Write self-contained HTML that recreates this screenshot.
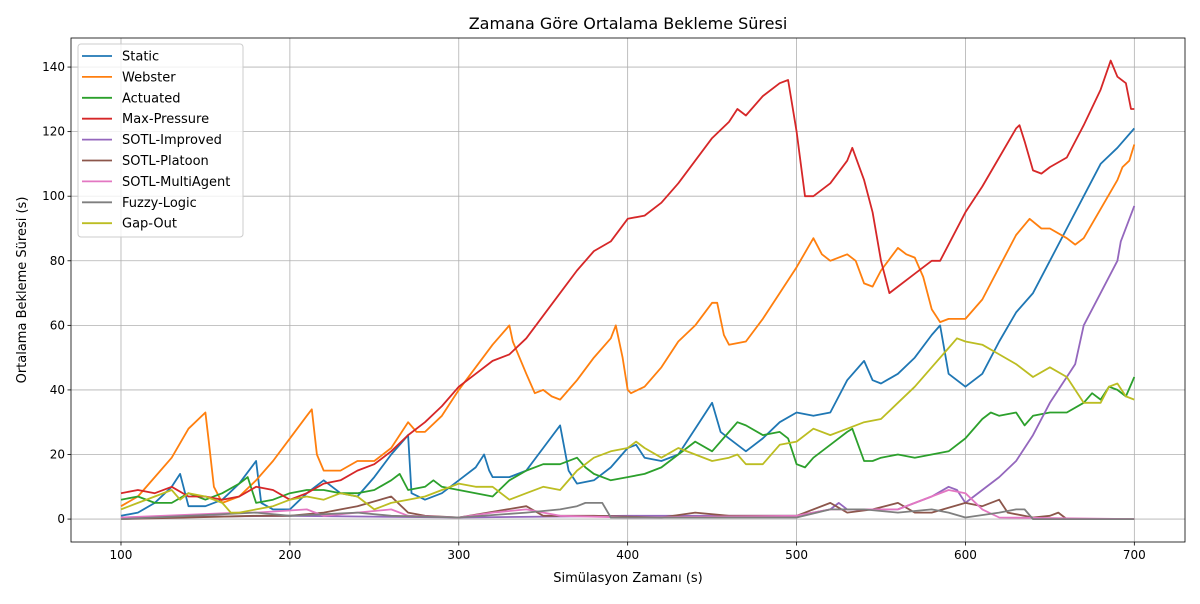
<!DOCTYPE html>
<html><head><meta charset="utf-8"><style>
body{margin:0;background:#fff;font-family:"DejaVu Sans","Liberation Sans",sans-serif;}
svg text{font-family:"DejaVu Sans","Liberation Sans",sans-serif;}
</style></head><body>
<svg id="chart" width="1200" height="600" xmlns="http://www.w3.org/2000/svg"></svg>
<script>
const xStatic=[100,110,120,130,135,140,150,160,170,180,183,190,200,210,220,230,240,250,260,270,272,280,290,300,310,315,318,320,330,340,350,360,365,370,380,390,400,405,410,420,430,440,450,455,460,470,480,490,500,510,520,530,540,545,550,560,570,580,585,590,600,610,620,630,640,650,660,670,680,690,700];
const yStatic=[1,2,5,10,14,4,4,6,11,18,5,3,3,8,12,8,7,13,20,26,8,6,8,12,16,20,15,13,13,15,22,29,15,11,12,16,22,23,19,18,20,28,36,27,25,21,25,30,33,32,33,43,49,43,42,45,50,57,60,45,41,45,55,64,70,80,90,100,110,115,121];
const xWebster=[100,110,120,130,140,150,152,155,160,170,180,190,200,210,213,216,220,230,240,250,260,270,275,280,290,300,310,320,330,332,340,345,350,355,360,370,380,390,393,397,400,402,410,420,430,440,450,453,457,460,470,480,490,500,510,515,520,530,535,540,545,550,560,565,570,575,580,585,590,600,610,620,630,638,645,650,660,665,670,680,690,693,697,700];
const yWebster=[4,7,13,19,28,33,24,10,5,7,12,18,25,32,34,20,15,15,18,18,22,30,27,27,32,40,47,54,60,55,45,39,40,38,37,43,50,56,60,50,40,39,41,47,55,60,67,67,57,54,55,62,70,78,87,82,80,82,80,73,72,77,84,82,81,75,65,61,62,62,68,78,88,93,90,90,87,85,87,96,105,109,111,116];
const xActuated=[100,110,120,130,140,150,160,170,175,180,190,200,210,220,230,240,250,260,265,270,280,285,290,300,310,320,330,340,350,360,370,375,380,390,400,410,420,430,440,450,460,465,470,480,490,495,500,505,510,520,530,533,540,545,550,560,570,580,590,600,610,615,620,630,635,640,650,660,670,675,680,685,690,695,700];
const yActuated=[6,7,5,5,8,6,8,11,13,5,6,8,9,9,8,8,9,12,14,9,10,12,10,9,8,7,12,15,17,17,19,16,14,12,13,14,16,20,24,21,27,30,29,26,27,25,17,16,19,23,27,28,18,18,19,20,19,20,21,25,31,33,32,33,29,32,33,33,36,39,37,41,40,38,44];
const xMaxP=[100,110,120,130,140,150,160,170,180,190,200,210,220,230,240,250,260,270,280,290,300,310,320,330,340,350,360,370,380,390,400,410,420,430,440,450,460,465,470,480,490,495,500,505,510,520,530,533,540,545,550,555,560,570,580,585,590,600,610,620,630,632,635,640,645,650,660,670,680,686,690,695,698,700];
const yMaxP=[8,9,8,10,7,7,6,7,10,9,6,8,11,12,15,17,21,26,30,35,41,45,49,51,56,63,70,77,83,86,93,94,98,104,111,118,123,127,125,131,135,136,120,100,100,104,111,115,105,95,80,70,72,76,80,80,85,95,103,112,121,122,117,108,107,109,112,122,133,142,137,135,127,127];
const xSotlImp=[100,200,300,400,500,520,525,530,560,580,590,595,600,610,620,630,640,650,660,665,670,680,690,692,700];
const ySotlImp=[0.5,1,0.5,1,1,3,5,3,3,7,10,9,5,9,13,18,26,36,44,48,60,70,80,86,97];
const xSotlPla=[100,180,200,220,240,260,270,280,300,340,350,380,420,440,460,500,520,530,545,560,570,580,600,610,620,625,640,650,655,660,700];
const ySotlPla=[0,1,1,2,4,7,2,1,0.5,4,1,1,0.5,2,1,1,5,2,3,5,2,2,5,4,6,2,0.5,1,2,0,0];
const xSotlMA=[100,170,180,210,220,260,270,300,320,340,360,400,500,520,560,590,600,610,620,700];
const ySotlMA=[0.5,2,2,3,1,3,1,0.5,2,3,1,0.5,1,3,3,9,8,3,0.5,0];
const xFuzzy=[100,180,200,240,260,300,340,360,370,375,385,390,500,520,540,560,580,590,600,620,630,635,640,700];
const yFuzzy=[0,2,1,2,1,0.5,2,3,4,5,5,0.5,0.5,3,3,2,3,2,0.5,2,3,3,0,0];
const xGap=[100,110,120,130,135,140,150,160,165,170,180,190,200,210,220,230,240,250,260,270,280,290,300,310,320,330,340,350,360,370,380,390,400,405,410,420,430,440,450,460,465,470,480,490,500,510,520,530,540,550,560,570,580,590,595,600,610,620,630,640,650,660,670,680,685,690,695,700];
const yGap=[3,5,7,9,6,8,7,5,2,2,3,4,6,7,6,8,7,3,5,6,7,9,11,10,10,6,8,10,9,15,19,21,22,24,22,19,22,20,18,19,20,17,17,23,24,28,26,28,30,31,36,41,47,53,56,55,54,51,48,44,47,44,36,36,41,42,38,37];
const xTicks=[100,200,300,400,500,600,700];
const yTicks=[0,20,40,60,80,100,120,140];
const seriesNames=["Static","Webster","Actuated","Max-Pressure","SOTL-Improved","SOTL-Platoon","SOTL-MultiAgent","Fuzzy-Logic","Gap-Out"];
const seriesX=[xStatic,xWebster,xActuated,xMaxP,xSotlImp,xSotlPla,xSotlMA,xFuzzy,xGap];
const seriesY=[yStatic,yWebster,yActuated,yMaxP,ySotlImp,ySotlPla,ySotlMA,yFuzzy,yGap];
const colors=["#1f77b4","#ff7f0e","#2ca02c","#d62728","#9467bd","#8c564b","#e377c2","#7f7f7f","#bcbd22"];

const NS="http://www.w3.org/2000/svg";
const svg=document.getElementById('chart');
const L=71,R=1185,T=38,B=542;
const xMin=70.4,xMax=730,yMin=-7.1,yMax=149.0;
const sx=v=>L+(v-xMin)/(xMax-xMin)*(R-L);
const sy=v=>B-(v-yMin)/(yMax-yMin)*(B-T);
function mk(tag,attrs,parent){const e=document.createElementNS(NS,tag);for(const k in attrs)e.setAttribute(k,attrs[k]);(parent||svg).appendChild(e);return e;}

const grid=mk('g',{});


xTicks.forEach(t=>{
  mk('line',{x1:sx(t),x2:sx(t),y1:T,y2:B,stroke:'#b0b0b0','stroke-width':0.8},grid);
  mk('line',{x1:sx(t),x2:sx(t),y1:B,y2:B+3.5,stroke:'#000','stroke-width':0.8});
  const tx=mk('text',{x:sx(t),y:B+17,'font-size':12,'text-anchor':'middle'});
  tx.textContent=t;
  
  
});
yTicks.forEach(t=>{
  mk('line',{x1:L,x2:R,y1:sy(t),y2:sy(t),stroke:'#b0b0b0','stroke-width':0.8},grid);
  mk('line',{x1:L-3.5,x2:L,y1:sy(t),y2:sy(t),stroke:'#000','stroke-width':0.8});
  const tx=mk('text',{x:L-6,y:sy(t)+4,'font-size':12,'text-anchor':'end'});
  tx.textContent=t;
  
  
});

seriesX.forEach((xs,i)=>{
  const d=xs.map((x,j)=>(j?'L':'M')+sx(x).toFixed(1)+' '+sy(seriesY[i][j]).toFixed(1)).join(' ');
  const p=mk('path',{d:d,fill:'none',stroke:colors[i],'stroke-width':1.8,'stroke-linejoin':'round'});
  
  
});

const frame=mk('rect',{x:L,y:T,width:R-L,height:B-T,fill:'none',stroke:'#000','stroke-width':0.8});



const title=mk('text',{x:(L+R)/2,y:29,'font-size':16,'text-anchor':'middle'});
title.textContent='Zamana Göre Ortalama Bekleme Süresi';


const xt=mk('text',{x:(L+R)/2,y:582,'font-size':13,'text-anchor':'middle'});
xt.textContent='Simülasyon Zamanı (s)';


const yt=mk('text',{x:0,y:0,'font-size':13,'text-anchor':'middle',transform:'translate(26,290) rotate(-90)'});
yt.textContent='Ortalama Bekleme Süresi (s)';



const leg=mk('g',{});


mk('rect',{x:78,y:44,width:165,height:193,rx:3,fill:'#fff','fill-opacity':0.8,stroke:'#ccc','stroke-width':1},leg);
seriesNames.forEach((n,i)=>{
  const y=56+i*20.9;
  mk('line',{x1:82,x2:112,y1:y,y2:y,stroke:colors[i],'stroke-width':1.8},leg);
  const t=mk('text',{x:122,y:y+4.5,'font-size':13},leg);
  t.textContent=n;
  
  
});
</script>
</body></html>
